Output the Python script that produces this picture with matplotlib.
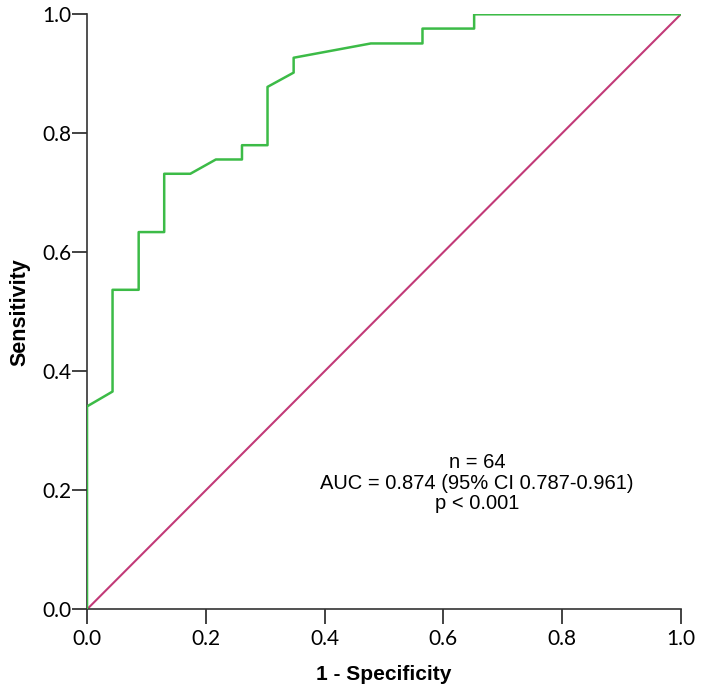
import matplotlib
matplotlib.use('Agg')
import matplotlib.pyplot as plt

# ROC points (1 - specificity, sensitivity)
fpr = [0.0, 0.0, 0.043, 0.043, 0.087, 0.087, 0.130, 0.130, 0.174, 0.217,
       0.261, 0.261, 0.304, 0.304, 0.348, 0.348, 0.478, 0.565, 0.565,
       0.652, 0.652, 1.0]
tpr = [0.0, 0.341, 0.366, 0.537, 0.537, 0.634, 0.634, 0.732, 0.732, 0.756,
       0.756, 0.780, 0.780, 0.878, 0.902, 0.927, 0.951, 0.951, 0.976,
       0.976, 1.0, 1.0]
ref_line = [0.0, 1.0]
ticks = [0.0, 0.2, 0.4, 0.6, 0.8, 1.0]
stats_text = 'n = 64\nAUC = 0.874 (95% CI 0.787-0.961)\np < 0.001'

fig = plt.figure(figsize=(7.04, 6.94), dpi=100)
ax = fig.add_axes([0.1236, 0.122, 0.8434, 0.8574])

ax.plot(ref_line, ref_line, color='#c23a78', lw=1.5, zorder=2)
ax.plot(fpr, tpr, color='#3cbb47', lw=1.8, zorder=3)

ax.set_xlim(0, 1)
ax.set_ylim(0, 1)
ax.set_xticks(ticks)
ax.set_yticks(ticks)
ax.set_xticklabels([f'{t:.1f}' for t in ticks], fontfamily='Lato', fontsize=15)
ax.set_yticklabels([f'{t:.1f}' for t in ticks], fontfamily='Lato', fontsize=15)
ax.tick_params(axis='x', length=10.5, width=1.2, color='#222222', pad=4)
ax.tick_params(axis='y', length=10.5, width=1.2, color='#222222', pad=0.5)

for side in ['top', 'right']:
    ax.spines[side].set_visible(False)
for side in ['left', 'bottom']:
    ax.spines[side].set_color('#333333')
    ax.spines[side].set_linewidth(1.2)

ax.set_xlabel('1 - Specificity', fontfamily='Liberation Sans', fontweight='bold',
              fontsize=15, labelpad=11)
ax.set_ylabel('Sensitivity', fontfamily='Liberation Sans', fontweight='bold',
              fontsize=15.5, labelpad=9)

ax.text(0.657, 0.212, stats_text, ha='center', va='center', fontfamily='Liberation Sans',
        fontsize=14.5, linespacing=1.08)

fig.savefig('out.png', dpi=100)
